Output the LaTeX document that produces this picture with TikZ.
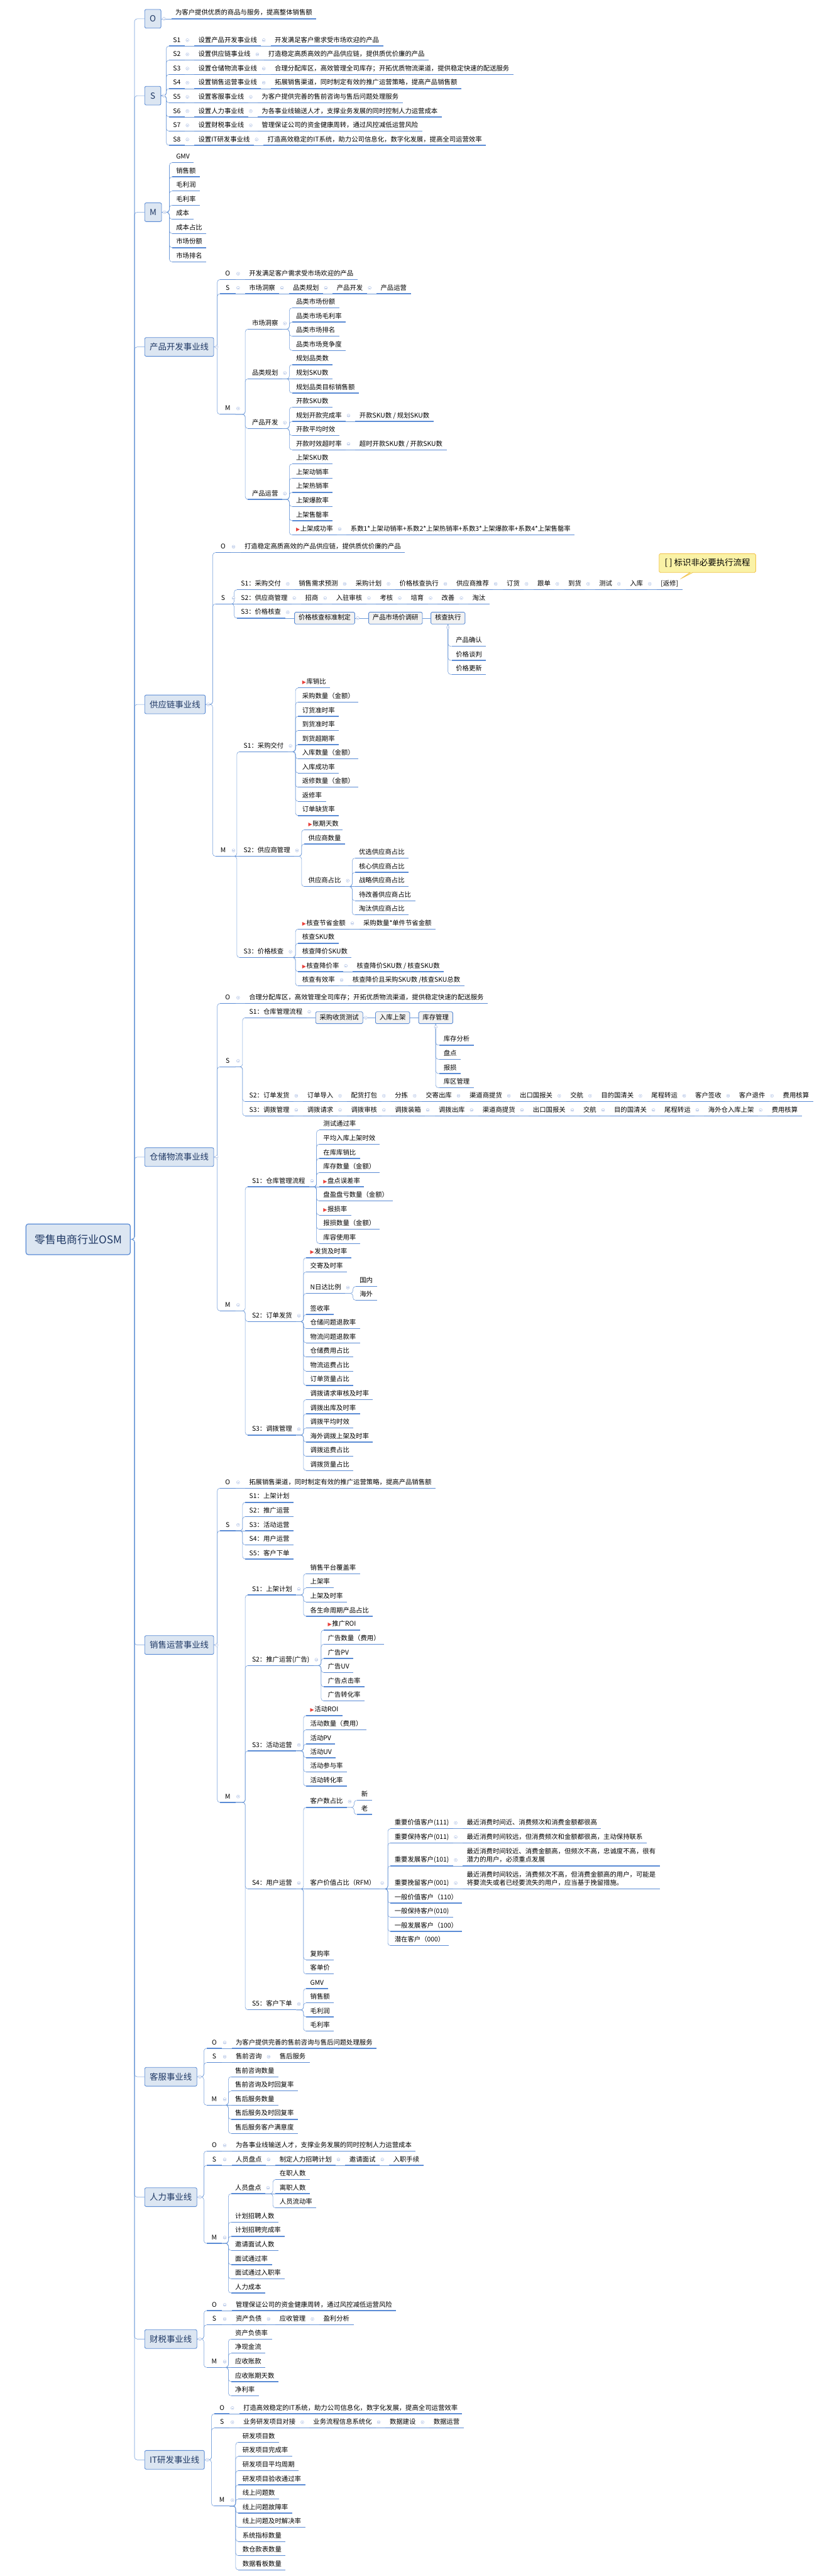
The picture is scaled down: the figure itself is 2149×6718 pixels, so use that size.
\documentclass[tikz,border=0pt]{standalone}
\usepackage{fontspec}
\setmainfont{Noto Sans CJK SC}
\newfontfamily\dejavu{DejaVu Sans}
\usetikzlibrary{calc,shapes.callouts}
\definecolor{ulc}{HTML}{5A8BD5}
\definecolor{cnc}{HTML}{6E9AD9}
\definecolor{boxf}{HTML}{DCE6F2}
\definecolor{navy}{HTML}{1F3864}
\definecolor{gboxf}{HTML}{F2F2F2}
\definecolor{foldc}{HTML}{A8BCE3}
\definecolor{flagred}{HTML}{E8413B}
\definecolor{calf}{HTML}{FAF2A6}
\definecolor{calb}{HTML}{F2C552}
\newcommand\fsz{\fontsize{17}{22}\selectfont}
\newcommand\fbx{\fontsize{22}{26}\selectfont}
\newcommand\froot{\fontsize{28}{32}\selectfont}
\newcommand\flag{\textcolor{flagred}{\dejavu\fontsize{13}{13}\selectfont ▶}\hspace{1pt}}
\tikzset{
 ul/.style={draw=ulc,line width=2.2pt},
 it/.style={font=\fsz,anchor=south west,text height=15pt,text depth=4pt,inner xsep=10.5pt,inner ysep=5.5pt,minimum width=40pt,
   append after command={(\tikzlastnode.south west) edge[ul] (\tikzlastnode.south east)}},
 conn/.style={draw=cnc,line width=0.9pt,rounded corners=7pt},
 lone/.style={draw=ulc,fill=boxf,line width=1.4pt,rounded corners=4pt,font=\fbx,text=navy,minimum height=49pt,minimum width=42pt,inner xsep=13pt,anchor=west},
 rootst/.style={draw=ulc,fill=boxf,line width=2pt,rounded corners=6pt,font=\froot,text=navy,minimum height=80pt,inner xsep=22pt,anchor=east},
 pbox/.style={draw=ulc,fill=gboxf,line width=1.4pt,rounded corners=3pt,font=\fsz,minimum height=31pt,inner xsep=10.5pt,text height=14pt,text depth=4pt,anchor=west},
 foldm/.style={draw=foldc,line width=0.7pt,fill=white},
}
\newcommand\Nd[4]{\node[it] (#1) at (#2,#3) {#4};}
\newcommand\Ch[3]{\node[it] (#2) at ([xshift=25pt]#1.south east) {#3};\draw[conn] (#1.south east) -- (#2.south west);}
\newcommand\Tr[2]{\draw[conn] (#1.south east) -| ($(#2.south west)+(-7pt,0)$) -- (#2.south west);}
\newcommand\Hz[2]{\draw[conn] (#1.south east) -- (#2.south west);}
\newcommand\Bx[2]{\draw[conn] (#1.east) -| ($(#2.south west)+(-7pt,0)$) -- (#2.south west);}
\newcommand\Kids[4]{\foreach \n/\y/\tx in {#4}{\Nd{\n}{#2}{\y}{\tx}\ifdim\y pt=#3pt\relax\Hz{#1}{\n}\else\Tr{#1}{\n}\fi}}
\newcommand\Fo[1]{\foreach \q in {#1}{\draw[foldm] ([xshift=7pt]\q.east) circle (4pt); \draw[foldc,line width=0.7pt] ([xshift=5pt]\q.east) -- ([xshift=9pt]\q.east);}}
\begin{document}
\begin{tikzpicture}[x=1pt,y=-1pt]
\fill[white] (0,0) rectangle (2149,6718);
\useasboundingbox (0,0) rectangle (2149,6718);

% root and level-1 boxes
\node[rootst] (root) at (341,3232) {零售电商行业OSM};
\node[lone] (bO) at (377,49) {O};
\node[lone] (bS) at (377,249.5) {S};
\node[lone] (bM) at (377,553.5) {M};
\node[lone] (bP) at (377,904.75) {产品开发事业线};
\node[lone] (bG) at (377,1837) {供应链事业线};
\node[lone] (bW) at (377,3017.5) {仓储物流事业线};
\node[lone] (bX) at (377,4290) {销售运营事业线};
\node[lone] (bK) at (377,5416) {客服事业线};
\node[lone] (bR) at (377,5730) {人力事业线};
\node[lone] (bC) at (377,6100) {财税事业线};
\node[lone] (bI) at (377,6415) {IT研发事业线};
\foreach \bx in {bO,bS,bM,bP,bG,bW,bX,bK,bR,bC,bI}
  \draw[conn] (root.east) -| ($(\bx.west)+(-26pt,0)$) -- (\bx.west);

% top O
\Nd{tO}{447}{49}{为客户提供优质的商品与服务，提高整体销售额}
\draw[conn] (bO.east) -- (tO.south west);
% top S
\foreach \i/\y/\ta/\tb in {1/120/设置产品开发事业线/开发满足客户需求受市场欢迎的产品,2/157/设置供应链事业线/打造稳定高质高效的产品供应链，提供质优价廉的产品,3/194/设置仓储物流事业线/合理分配库区，高效管理全司库存；开拓优质物流渠道，提供稳定快速的配送服务,4/231/设置销售运营事业线/拓展销售渠道，同时制定有效的推广运营策略，提高产品销售额,5/268/设置客服事业线/为客户提供完善的售前咨询与售后问题处理服务,6/305/设置人力事业线/为各事业线输送人才，支撑业务发展的同时控制人力运营成本,7/342/设置财税事业线/管理保证公司的资金健康周转，通过风控减低运营风险,8/379/设置IT研发事业线/打造高效稳定的IT系统，助力公司信息化，数字化发展，提高全司运营效率}
  {\Nd{tS\i}{441}{\y}{S\i}\Ch{tS\i}{tSa\i}{\ta}\Ch{tSa\i}{tSb\i}{\tb}\Bx{bS}{tS\i}}
% top M
\foreach \n/\y/\tx in {1/424/GMV,2/461/销售额,3/498/毛利润,4/535/毛利率,5/572/成本,6/609/成本占比,7/646/市场份额,8/683/市场排名}
  {\Nd{tM\n}{449}{\y}{\tx}\Bx{bM}{tM\n}}

% ---------- 产品开发
\Nd{pO}{574}{729}{O}\Ch{pO}{pOa}{开发满足客户需求受市场欢迎的产品}
\Nd{pS}{574}{766}{S}\Ch{pS}{pS1}{市场洞察}\Ch{pS1}{pS2}{品类规划}\Ch{pS2}{pS3}{产品开发}\Ch{pS3}{pS4}{产品运营}
\Nd{pM}{574}{1080.5}{M}
\foreach \c in {pO,pS,pM}{\Bx{bP}{\c}}
\Kids{pM}{647}{1080.5}{pM1/858.5/市场洞察,pM2/988/品类规划,pM3/1117.5/产品开发,pM4/1302.5/产品运营}
\Kids{pM1}{762}{858.5}{pa1/803/品类市场份额,pa2/840/品类市场毛利率,pa3/877/品类市场排名,pa4/914/品类市场竞争度}
\Kids{pM2}{762}{988}{pb1/951/规划品类数,pb2/988/规划SKU数,pb3/1025/规划品类目标销售额}
\Kids{pM3}{762}{1117.5}{pc1/1062/开款SKU数,pc2/1099/规划开款完成率,pc3/1136/开款平均时效,pc4/1173/开款时效超时率}
\Ch{pc2}{pc2a}{开款SKU数 / 规划SKU数}
\Ch{pc4}{pc4a}{超时开款SKU数 / 开款SKU数}
\Kids{pM4}{762}{1302.5}{pd1/1210/上架SKU数,pd2/1247/上架动销率,pd3/1284/上架热销率,pd4/1321/上架爆款率,pd5/1358/上架售罄率,pd6/1395/\flag 上架成功率}
\Ch{pd6}{pd6a}{系数1*上架动销率+系数2*上架热销率+系数3*上架爆款率+系数4*上架售罄率}

% ---------- 供应链
\Nd{gO}{562}{1441}{O}\Ch{gO}{gOa}{打造稳定高质高效的产品供应链，提供质优价廉的产品}
\Nd{gS}{562}{1575}{S}
\Nd{gM}{562}{2233}{M}
\foreach \c in {gO,gS,gM}{\Bx{bG}{\c}}
\Kids{gS}{618}{1575}{gS1/1538/S1：采购交付,gS2/1575/S2：供应商管理,gS3/1612/S3：价格核查}
\Ch{gS1}{ga1}{销售需求预测}\Ch{ga1}{ga2}{采购计划}\Ch{ga2}{ga3}{价格核查执行}\Ch{ga3}{ga4}{供应商推荐}\Ch{ga4}{ga5}{订货}\Ch{ga5}{ga6}{跟单}\Ch{ga6}{ga7}{到货}\Ch{ga7}{ga8}{测试}\Ch{ga8}{ga9}{入库}\Ch{ga9}{ga10}{[返修]}
\Ch{gS2}{gc1}{招商}\Ch{gc1}{gc2}{入驻审核}\Ch{gc2}{gc3}{考核}\Ch{gc3}{gc4}{培育}\Ch{gc4}{gc5}{改善}\Ch{gc5}{gc6}{淘汰}
\node[pbox] (gx1) at ([xshift=24pt]gS3.south east) {价格核查标准制定};
\node[pbox] (gx2) at ([xshift=35pt]gx1.east) {产品市场价调研};
\node[pbox] (gx3) at ([xshift=21pt]gx2.east) {核查执行};
\draw[conn] (gS3.south east) -- (gx1.west);
\draw[conn] (gx1.east) -- (gx2.west);
\draw[conn] (gx2.east) -- (gx3.west);
\foreach \n/\dy/\tx in {gy1/57.5/产品确认,gy2/94/价格谈判,gy3/130.5/价格更新}
  {\node[it] (\n) at ($(gx3.south)+(10pt,-\dy pt)$) {\tx}; \draw[conn] (gx3.south) |- (\n.south west);}
\Kids{gM}{625}{2233}{gM1/1960.5/S1：采购交付,gM2/2233/S2：供应商管理,gM3/2497/S3：价格核查}
\Kids{gM1}{778}{1960.5}{gd1/1794/\flag 库销比,gd2/1831/采购数量（金额）,gd3/1868/订货准时率,gd4/1905/到货准时率,gd5/1942/到货超期率,gd6/1979/入库数量（金额）,gd7/2016/入库成功率,gd8/2053/返修数量（金额）,gd9/2090/返修率,gd10/2127/订单缺货率}
\Kids{gM2}{794}{2233}{ge1/2164/\flag 账期天数,ge2/2201/供应商数量,ge3/2312/供应商占比}
\Kids{ge3}{926}{2312}{gf1/2238/优选供应商占比,gf2/2275/核心供应商占比,gf3/2312/战略供应商占比,gf4/2349/待改善供应商占比,gf5/2386/淘汰供应商占比}
\Kids{gM3}{778}{2497}{gg1/2423/\flag 核查节省金额,gg2/2460/核查SKU数,gg3/2497/核查降价SKU数,gg4/2534/\flag 核查降价率,gg5/2571/核查有效率}
\Ch{gg1}{gg1a}{采购数量*单件节省金额}
\Ch{gg4}{gg4a}{核查降价SKU数 / 核查SKU数}
\Ch{gg5}{gg5a}{核查降价且采购SKU数 /核查SKU总数}

% ---------- 仓储物流
\Nd{wO}{574}{2617}{O}\Ch{wO}{wOa}{合理分配库区，高效管理全司库存；开拓优质物流渠道，提供稳定快速的配送服务}
\Nd{wS}{574}{2782}{S}
\Nd{wM}{574}{3418.5}{M}
\foreach \c in {wO,wS,wM}{\Bx{bW}{\c}}
\Kids{wS}{640}{2782}{wS1/2654/S1：仓库管理流程,wS2/2873/S2：订单发货,wS3/2910/S3：调拨管理}
\node[pbox] (wx1) at ([xshift=23pt]wS1.south east) {采购收货测试};
\node[pbox] (wx2) at ([xshift=32pt]wx1.east) {入库上架};
\node[pbox] (wx3) at ([xshift=22pt]wx2.east) {库存管理};
\draw[conn] (wS1.south east) -- (wx1.west);
\draw[conn] (wx1.east) -- (wx2.west);
\draw[conn] (wx2.east) -- (wx3.west);
\foreach \n/\dy/\tx in {wy1/55.5/库存分析,wy2/92.5/盘点,wy3/129.5/报损,wy4/166.5/库区管理}
  {\node[it] (\n) at ($(wx3.south)+(10pt,-\dy pt)$) {\tx}; \draw[conn] (wx3.south) |- (\n.south west);}
\Ch{wS2}{wa1}{订单导入}\Ch{wa1}{wa2}{配货打包}\Ch{wa2}{wa3}{分拣}\Ch{wa3}{wa4}{交寄出库}\Ch{wa4}{wa5}{渠道商提货}\Ch{wa5}{wa6}{出口国报关}\Ch{wa6}{wa7}{交航}\Ch{wa7}{wa8}{目的国清关}\Ch{wa8}{wa9}{尾程转运}\Ch{wa9}{wa10}{客户签收}\Ch{wa10}{wa11}{客户退件}\Ch{wa11}{wa12}{费用核算}
\Ch{wS3}{wb1}{调拨请求}\Ch{wb1}{wb2}{调拨审核}\Ch{wb2}{wb3}{调拨装箱}\Ch{wb3}{wb4}{调拨出库}\Ch{wb4}{wb5}{渠道商提货}\Ch{wb5}{wb6}{出口国报关}\Ch{wb6}{wb7}{交航}\Ch{wb7}{wb8}{目的国清关}\Ch{wb8}{wb9}{尾程转运}\Ch{wb9}{wb10}{海外仓入库上架}\Ch{wb10}{wb11}{费用核算}
\Kids{wM}{647}{3418.5}{wM1/3095/S1：仓库管理流程,wM2/3446.5/S2：订单发货,wM3/3742.5/S3：调拨管理}
\Kids{wM1}{833}{3095}{wd1/2947/测试通过率,wd2/2984/平均入库上架时效,wd3/3021/在库库销比,wd4/3058/库存数量（金额）,wd5/3095/\flag 盘点误差率,wd6/3132/盘盈盘亏数量（金额）,wd7/3169/\flag 报损率,wd8/3206/报损数量（金额）,wd9/3243/库容使用率}
\Kids{wM2}{799}{3446.5}{we1/3280/\flag 发货及时率,we2/3317/交寄及时率,we3/3373/N日达比例,we4/3428/签收率,we5/3465/仓储问题退款率,we6/3502/物流问题退款率,we7/3539/仓储费用占比,we8/3576/物流运费占比,we9/3613/订单货量占比}
\Kids{we3}{928}{3373}{wf1/3355/国内,wf2/3391/海外}
\Kids{wM3}{799}{3742.5}{wg1/3650/调拨请求审核及时率,wg2/3687/调拨出库及时率,wg3/3724/调拨平均时效,wg4/3761/海外调拨上架及时率,wg5/3798/调拨运费占比,wg6/3835/调拨货量占比}

% ---------- 销售运营
\Nd{xO}{574}{3881}{O}\Ch{xO}{xOa}{拓展销售渠道，同时制定有效的推广运营策略，提高产品销售额}
\Nd{xS}{574}{3992}{S}
\Nd{xM}{574}{4700.5}{M}
\foreach \c in {xO,xS,xM}{\Bx{bX}{\c}}
\Kids{xS}{640}{3992}{xs1/3918/S1：上架计划,xs2/3955/S2：推广运营,xs3/3992/S3：活动运营,xs4/4029/S4：用户运营,xs5/4066/S5：客户下单}
\Kids{xM}{647}{4700.5}{xM1/4159.5/S1：上架计划,xM2/4343.5/S2：推广运营(广告),xM3/4566/S3：活动运营,xM4/4926/S4：用户运营,xM5/5241.5/S5：客户下单}
\Kids{xM1}{799}{4159.5}{xa1/4104/销售平台覆盖率,xa2/4141/上架率,xa3/4178/上架及时率,xa4/4215/各生命周期产品占比}
\Kids{xM2}{845}{4343.5}{xb1/4251/\flag 推广ROI,xb2/4288/广告数量（费用）,xb3/4325/广告PV,xb4/4362/广告UV,xb5/4399/广告点击率,xb6/4436/广告转化率}
\Kids{xM3}{799}{4566}{xc1/4474/\flag 活动ROI,xc2/4511/活动数量（费用）,xc3/4548/活动PV,xc4/4584/活动UV,xc5/4621/活动参与率,xc6/4658/活动转化率}
\Kids{xM4}{799}{4926}{xd1/4713.5/客户数占比,xd2/4926/客户价值占比（RFM）,xd3/5111/复购率,xd4/5148/客单价}
\Kids{xd1}{931}{4713.5}{xe1/4695/新,xe2/4732/老}
\Kids{xd2}{1019}{4926}{xf1/4769/重要价值客户(111),xf2/4806/重要保持客户(011),xf3/4866/重要发展客户(101),xf4/4926/重要挽留客户(001),xf5/4963/一般价值客户（110）,xf6/5000/一般保持客户(010),xf7/5037/一般发展客户（100）,xf8/5074/潜在客户（000）}
\Ch{xf1}{xf1a}{最近消费时间近、消费频次和消费金额都很高}
\Ch{xf2}{xf2a}{最近消费时间较远，但消费频次和金额都很高，主动保持联系}
\node[it,text height=37pt] (xf3a) at ([xshift=25pt]xf3.south east) {\vbox{\hbox{最近消费时间较近、消费金额高，但频次不高，忠诚度不高，很有}\hbox{潜力的用户，必须重点发展}}};
\draw[conn] (xf3.south east) -- (xf3a.south west);
\node[it,text height=37pt] (xf4a) at ([xshift=25pt]xf4.south east) {\vbox{\hbox{最近消费时间较远，消费频次不高，但消费金额高的用户，可能是}\hbox{将要流失或者已经要流失的用户，应当基于挽留措施。}}};
\draw[conn] (xf4.south east) -- (xf4a.south west);
\Kids{xM5}{799}{5241.5}{xg1/5186/GMV,xg2/5223/销售额,xg3/5260/毛利润,xg4/5297/毛利率}

% ---------- 客服
\Nd{kO}{539}{5342}{O}\Ch{kO}{kOa}{为客户提供完善的售前咨询与售后问题处理服务}
\Nd{kS}{539}{5379}{S}\Ch{kS}{kS1}{售前咨询}\Ch{kS1}{kS2}{售后服务}
\Nd{kM}{539}{5490}{M}
\foreach \c in {kO,kS,kM}{\Bx{bK}{\c}}
\Kids{kM}{603}{5490}{ka1/5416/售前咨询数量,ka2/5453/售前咨询及时回复率,ka3/5490/售后服务数量,ka4/5527/售后服务及时回复率,ka5/5564/售后服务客户满意度}

% ---------- 人力
\Nd{rO}{539}{5610}{O}\Ch{rO}{rOa}{为各事业线输送人才，支撑业务发展的同时控制人力运营成本}
\Nd{rS}{539}{5647}{S}\Ch{rS}{rS1}{人员盘点}\Ch{rS1}{rS2}{制定人力招聘计划}\Ch{rS2}{rS3}{邀请面试}\Ch{rS3}{rS4}{入职手续}
\Nd{rM}{539}{5850.5}{M}
\foreach \c in {rO,rS,rM}{\Bx{bR}{\c}}
\Kids{rM}{603}{5850.5}{ra1/5721/人员盘点,ra2/5795/计划招聘人数,ra3/5832/计划招聘完成率,ra4/5869/邀请面试人数,ra5/5906/面试通过率,ra6/5943/面试通过入职率,ra7/5980/人力成本}
\Kids{ra1}{719}{5721}{rb1/5684/在职人数,rb2/5721/离职人数,rb3/5758/人员流动率}

% ---------- 财税
\Nd{cO}{539}{6026}{O}\Ch{cO}{cOa}{管理保证公司的资金健康周转，通过风控减低运营风险}
\Nd{cS}{539}{6063}{S}\Ch{cS}{cS1}{资产负债}\Ch{cS1}{cS2}{应收管理}\Ch{cS2}{cS3}{盈利分析}
\Nd{cM}{539}{6174}{M}
\foreach \c in {cO,cS,cM}{\Bx{bC}{\c}}
\Kids{cM}{603}{6174}{ca1/6100/资产负债率,ca2/6137/净现金流,ca3/6174/应收账款,ca4/6211/应收账期天数,ca5/6248/净利率}

% ---------- IT研发
\Nd{iO}{559}{6295}{O}\Ch{iO}{iOa}{打造高效稳定的IT系统，助力公司信息化，数字化发展，提高全司运营效率}
\Nd{iS}{559}{6332}{S}\Ch{iS}{iS1}{业务研发项目对接}\Ch{iS1}{iS2}{业务流程信息系统化}\Ch{iS2}{iS3}{数据建设}\Ch{iS3}{iS4}{数据运营}
\Nd{iM}{559}{6535.5}{M}
\foreach \c in {iO,iS,iM}{\Bx{bI}{\c}}
\Kids{iM}{622}{6535.5}{ia1/6369/研发项目数,ia2/6406/研发项目完成率,ia3/6443/研发项目平均周期,ia4/6480/研发项目验收通过率,ia5/6517/线上问题数,ia6/6554/线上问题故障率,ia7/6591/线上问题及时解决率,ia8/6628/系统指标数量,ia9/6665/数仓款表数量,ia10/6702/数据看板数量}

% callout
\node[rectangle callout,callout absolute pointer={(1777,1509)},draw=calb,fill=calf,line width=1.4pt,rounded corners=3pt,font=\fbx,minimum width=252pt,minimum height=49pt] (note) at (1846,1468.5) {[ ] 标识非必要执行流程};

% fold markers
\Fo{bO,bS,bM,bP,bG,bW,bX,bK,bR,bC,bI}
\Fo{tS1,tS2,tS3,tS4,tS5,tS6,tS7,tS8,tSa1,tSa2,tSa3,tSa4,tSa5,tSa6,tSa7,tSa8}
\Fo{pO,pS,pS1,pS2,pS3,pM,pM1,pM2,pM3,pM4,pc2,pc4,pd6}
\Fo{gO,gS,gS1,ga1,ga2,ga3,ga4,ga5,ga6,ga7,ga8,ga9,gS2,gc1,gc2,gc3,gc4,gc5,gS3,gx1,gM,gM1,gM2,ge3,gM3,gg1,gg4,gg5}
\Fo{wO,wS,wS1,wx1,wS2,wa1,wa2,wa3,wa4,wa5,wa6,wa7,wa8,wa9,wa10,wa11,wS3,wb1,wb2,wb3,wb4,wb5,wb6,wb7,wb8,wb9,wb10,wM,wM1,wM2,we3,wM3}
\Fo{xO,xS,xM,xM1,xM2,xM3,xM4,xM5,xd1,xd2,xf1,xf2,xf3,xf4}
\Fo{kO,kS,kS1,kM,rO,rS,rS1,rS2,rS3,rM,ra1,cO,cS,cS1,cS2,cM,iO,iS,iS1,iS2,iS3,iM}
\foreach \q in {gx3,wx3}{\draw[foldm] ([yshift=-8pt]\q.south) circle (4pt); \draw[foldc,line width=0.7pt] ([yshift=-8pt,xshift=-2pt]\q.south) -- ([yshift=-8pt,xshift=2pt]\q.south);}
\end{tikzpicture}
\end{document}
